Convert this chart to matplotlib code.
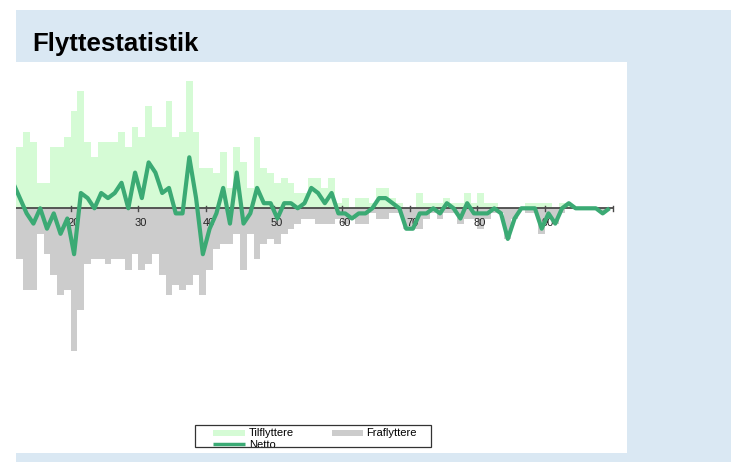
import numpy as np
import matplotlib
matplotlib.use("Agg")
import matplotlib.pyplot as plt
from matplotlib.patches import Rectangle
from matplotlib.lines import Line2D


# =========================
# DATA
# =========================
ages = list(range(11, 100))

tilflyttere = [
    12, 12, 15, 13, 5, 5, 12, 12, 14, 19,      # 11-20
    23, 13, 10, 13, 13, 13, 15, 12, 16, 14,    # 21-30
    20, 16, 16, 21, 14, 15, 25, 15, 8, 8,      # 31-40
    7, 11, 4, 12, 9, 4, 14, 8, 7, 5,           # 41-50
    6, 5, 3, 3, 6, 6, 4, 6, 1, 2,              # 51-60
    0, 2, 2, 1, 4, 4, 2, 1, 0, 0,              # 61-70
    3, 1, 1, 1, 2, 1, 1, 3, 1, 3,              # 71-80
    1, 1, 0, 0, 0, 0, 1, 1, 1, 1,              # 81-90
    0, 1, 1, 0, 0, 0, 0, 0, 0,                 # 91-99
]

fraflyttere = [
    7, 10, 16, 16, 5, 9, 13, 17, 16, 28,       # 11-20
    20, 11, 10, 10, 11, 10, 10, 12, 9, 12,     # 21-30
    11, 9, 13, 17, 15, 16, 15, 13, 17, 12,     # 31-40
    8, 7, 7, 5, 12, 5, 10, 7, 6, 7,            # 41-50
    5, 4, 3, 2, 2, 3, 3, 3, 2, 3,              # 51-60
    2, 3, 3, 1, 2, 2, 1, 1, 4, 4,              # 61-70
    4, 2, 1, 2, 1, 1, 3, 2, 2, 4,              # 71-80
    2, 1, 1, 6, 2, 0, 1, 1, 5, 2,              # 81-90
    3, 1, 0, 0, 0, 0, 0, 1, 0,                 # 91-99
]

tick_values = [20, 30, 40, 50, 60, 70, 80, 90]
title = "Flyttestatistik"
legend_labels = ["Tilflyttere", "Fraflyttere", "Netto"]

# =========================
# STYLE
# =========================
W, H = 731, 462
BG_BLUE = "#dae8f3"
GREEN_BAR = "#d5fbd5"
GRAY_BAR = "#cccccc"
LINE_GREEN = "#3baa74"
AXIS_COL = "#4a4a4a"

plt.rcParams["font.family"] = ["Liberation Sans", "DejaVu Sans"]


def fx(x):
    return x / W


def fy(y):
    return 1 - y / H


ages_arr = np.array(ages)
inn = np.array(tilflyttere)
ut = np.array(fraflyttere)
netto = inn - ut

fig = plt.figure(figsize=(W / 100, H / 100), dpi=100, facecolor="white")

# blue panel behind everything
fig.patches.append(Rectangle((fx(16), 0), 1 - fx(16), fy(10), transform=fig.transFigure,
                             facecolor=BG_BLUE, edgecolor="none", zorder=-5))

fig.text(fx(32), fy(50.5), title, fontsize=18.5, fontweight="bold", color="black",
         ha="left", va="baseline")

# white plot panel
left, right, top, bottom = 16, 626.7, 61.5, 452.7
ax = fig.add_axes([fx(left), fy(bottom), fx(right) - fx(left), fy(top) - fy(bottom)])
ax.set_facecolor("white")

px_per_year = 6.777
x0_pix = 70.7          # pixel position of age 20
zero_pix = 208.3       # pixel position of y = 0
px_per_unit = 5.1

ax.set_xlim(20 - (x0_pix - left) / px_per_year, 20 + (right - x0_pix) / px_per_year)
ax.set_ylim(-(bottom - zero_pix) / px_per_unit, (zero_pix - top) / px_per_unit)

ax.bar(ages_arr, inn, width=1.0, align="edge", color=GREEN_BAR, linewidth=0, zorder=1)
ax.bar(ages_arr, -ut, width=1.0, align="edge", color=GRAY_BAR, linewidth=0, zorder=1)

# axis line with ticks
xmin = ax.get_xlim()[0]
ax.plot([xmin, 100], [0, 0], color=AXIS_COL, lw=1.3, zorder=2, solid_capstyle="butt")
for t in tick_values + [100]:
    ax.plot([t, t], [-0.5, 0.5], color=AXIS_COL, lw=1.0, zorder=2)
for t in tick_values:
    ax.text(t + 0.4, -2.8, str(t), fontsize=8, color="#222222", ha="center",
            va="center", zorder=2)

ax.plot(ages_arr + 0.5, netto, color=LINE_GREEN, lw=3.0, zorder=3,
        solid_joinstyle="round", solid_capstyle="butt")

for s in ax.spines.values():
    s.set_visible(False)
ax.set_xticks([])
ax.set_yticks([])

# legend (drawn by hand, the box is too short for the last row)
box = Rectangle((fx(195), fy(446.7)), fx(430.7) - fx(195), fy(425) - fy(446.7),
                transform=fig.transFigure, facecolor="white", edgecolor="#333333",
                lw=0.9, zorder=5)
fig.patches.append(box)
fig.patches.append(Rectangle((fx(213), fy(436)), fx(245) - fx(213), fy(430) - fy(436),
                             transform=fig.transFigure, facecolor=GREEN_BAR,
                             edgecolor="none", zorder=6))
fig.patches.append(Rectangle((fx(332), fy(436)), fx(363) - fx(332), fy(430) - fy(436),
                             transform=fig.transFigure, facecolor=GRAY_BAR,
                             edgecolor="none", zorder=6))
fig.lines.append(Line2D([fx(213), fx(245)], [fy(444), fy(444)], transform=fig.transFigure,
                        color=LINE_GREEN, lw=2.5, zorder=6, solid_capstyle="butt"))
fig.text(fx(249), fy(433), legend_labels[0], fontsize=8, ha="left", va="center", zorder=7)
fig.text(fx(366), fy(433), legend_labels[1], fontsize=8, ha="left", va="center", zorder=7)
t_netto = fig.text(fx(249), fy(445), legend_labels[2], fontsize=8, ha="left",
                   va="center", zorder=7)
t_netto.set_clip_path(box)

fig.savefig("out.png", dpi=100, facecolor="white")
